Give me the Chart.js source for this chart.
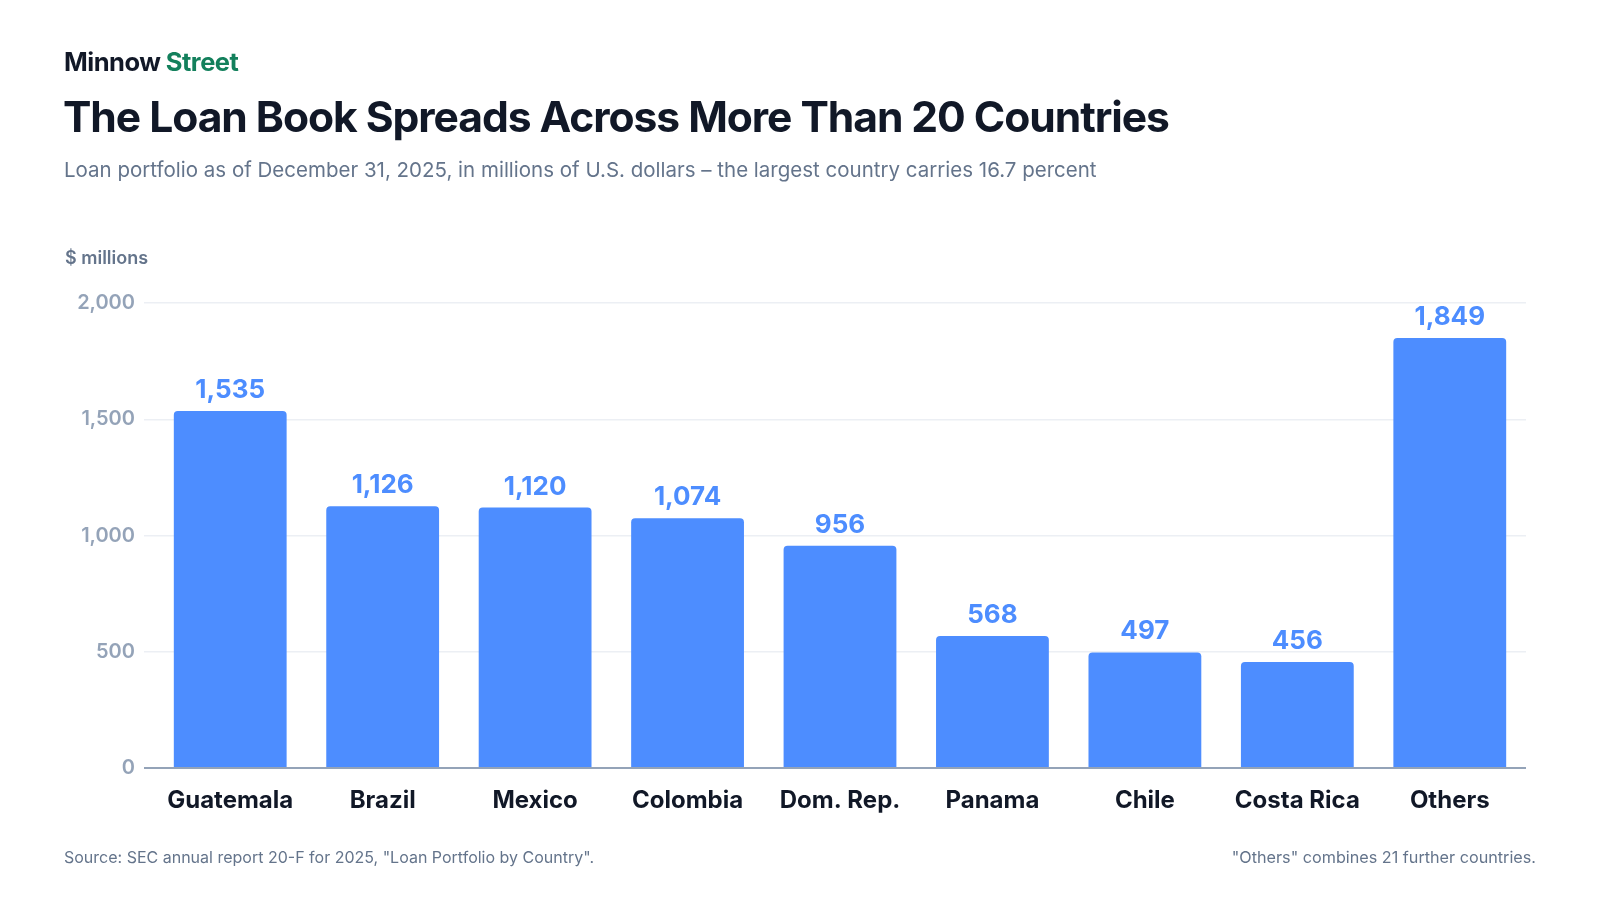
<!DOCTYPE html>
<html>
<head>
<meta charset="utf-8">
<script src="https://cdn.jsdelivr.net/npm/chart.js@4/dist/chart.umd.min.js"></script>
<style>
  html, body { margin: 0; padding: 0; background: #fff; }
  body { width: 1600px; height: 900px; position: relative; overflow: hidden; font-family: 'Inter', sans-serif; }
  .txt { position: absolute; white-space: nowrap; }
  #brand { left: 64px; top: 46px; font-size: 25.5px; font-weight: 700; color: #111827; letter-spacing: -0.02em; }
  #brand span { color: #13805c; }
  #title { left: 63px; top: 91px; font-size: 42.6px; font-weight: 700; color: #111827; letter-spacing: -0.025em; }
  #subtitle { left: 64px; top: 157px; font-size: 20.5px; color: #64748b; }
  #unit { left: 65px; top: 247px; font-size: 18px; font-weight: 600; color: #64748b; }
  #source { left: 64px; top: 847px; font-size: 16px; color: #64748b; }
  #note { right: 64px; top: 847px; font-size: 16.2px; color: #64748b; }
  #wrap { position: absolute; left: 0; top: 0; width: 1600px; height: 900px; }
</style>
</head>
<body>
<div id="wrap"><canvas id="loanChart"></canvas></div>
<div class="txt" id="brand">Minnow <span>Street</span></div>
<div class="txt" id="title">The Loan Book Spreads Across More Than 20 Countries</div>
<div class="txt" id="subtitle">Loan portfolio as of December 31, 2025, in millions of U.S. dollars – the largest country carries 16.7 percent</div>
<div class="txt" id="unit">$ millions</div>
<div class="txt" id="source">Source: SEC annual report 20-F for 2025, "Loan Portfolio by Country".</div>
<div class="txt" id="note">"Others" combines 21 further countries.</div>

<script>
// Data
const countries = ['Guatemala', 'Brazil', 'Mexico', 'Colombia', 'Dom. Rep.', 'Panama', 'Chile', 'Costa Rica', 'Others'];
const loans = [1535, 1126, 1120, 1074, 956, 568, 497, 456, 1849];
const yTicks = [0, 500, 1000, 1500, 2000];

const BLUE = '#4d8dff';

// Value labels above each bar
const valueLabels = {
  id: 'valueLabels',
  afterDatasetsDraw(chart) {
    const ctx = chart.ctx;
    const meta = chart.getDatasetMeta(0);
    ctx.save();
    ctx.font = '700 26px Inter';
    ctx.fillStyle = BLUE;
    ctx.textAlign = 'center';
    ctx.textBaseline = 'alphabetic';
    meta.data.forEach((bar, i) => {
      ctx.fillText(loans[i].toLocaleString('en-US'), bar.x, bar.y - 13);
    });
    ctx.restore();
  }
};

Chart.defaults.font.family = 'Inter';

const ctx = document.getElementById('loanChart').getContext('2d');
new Chart(ctx, {
  type: 'bar',
  data: {
    labels: countries,
    datasets: [{
      data: loans,
      backgroundColor: BLUE,
      borderRadius: 4,
      barPercentage: 0.74,
      categoryPercentage: 1.0
    }]
  },
  options: {
    responsive: true,
    maintainAspectRatio: false,
    animation: false,
    layout: { padding: { top: 303, right: 74, left: 0, bottom: 0 } },
    plugins: {
      legend: { display: false },
      tooltip: { enabled: false }
    },
    scales: {
      x: {
        grid: { display: false },
        border: { display: false },
        ticks: {
          color: '#111827',
          font: { size: 24, weight: '700' },
          padding: 10
        },
        afterFit(scale) { scale.height = 132; }
      },
      y: {
        min: 0,
        max: 2000,
        afterBuildTicks(scale) { scale.ticks = yTicks.map(v => ({ value: v })); },
        afterFit(scale) { scale.width = 154; },
        border: { display: false },
        grid: {
          color: c => (c.tick && c.tick.value === 0) ? '#94a3b8' : '#eceff4',
          lineWidth: c => (c.tick && c.tick.value === 0) ? 2 : 1.5,
          tickLength: 10
        },
        ticks: {
          color: '#94a3b8',
          font: { size: 20, weight: '600' },
          padding: 9,
          callback: v => v.toLocaleString('en-US')
        }
      }
    }
  },
  plugins: [valueLabels]
});
</script>
</body>
</html>
